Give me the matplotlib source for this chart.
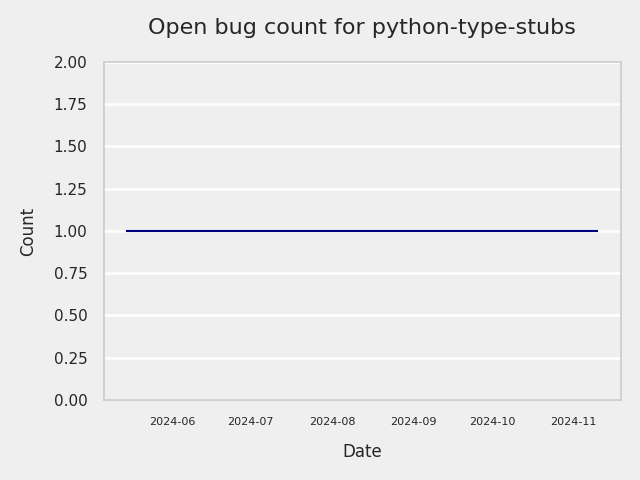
import numpy as np
import pandas as pd
import matplotlib
matplotlib.use('Agg')
import matplotlib.pyplot as plt
import matplotlib.dates as mdates

# open bug counts over time
dates = pd.to_datetime(['2024-05-15', '2024-11-10'])
counts = [1, 1]

bg = '#efefef'
fig = plt.figure(figsize=(6.4, 4.8), dpi=100, facecolor=bg)
ax = fig.add_axes([0.1625, 0.1667, 0.8075, 0.7043], facecolor=bg)

ax.plot(dates, counts, color='#000080', linewidth=1.5)

ax.set_ylim(0, 2)
ax.set_yticks(np.arange(0, 2.01, 0.25))
ax.yaxis.grid(True, color='white', linewidth=1.8)
ax.set_axisbelow(True)
ax.xaxis.set_major_locator(mdates.MonthLocator())
ax.xaxis.set_major_formatter(mdates.DateFormatter('%Y-%m'))

ax.tick_params(axis='both', length=0, colors='#262626')
ax.tick_params(axis='x', labelsize=8, pad=12)
ax.tick_params(axis='y', labelsize=11, pad=12)
for s in ax.spines.values():
    s.set_color('#cccccc')
    s.set_linewidth(1.2)

ax.set_title('Open bug count for python-type-stubs', fontsize=16, color='#262626', pad=20)
ax.set_xlabel('Date', fontsize=12, color='#262626', labelpad=12)
ax.set_ylabel('Count', fontsize=12, color='#262626', labelpad=12)

fig.savefig('out.png', dpi=100, facecolor=bg)
